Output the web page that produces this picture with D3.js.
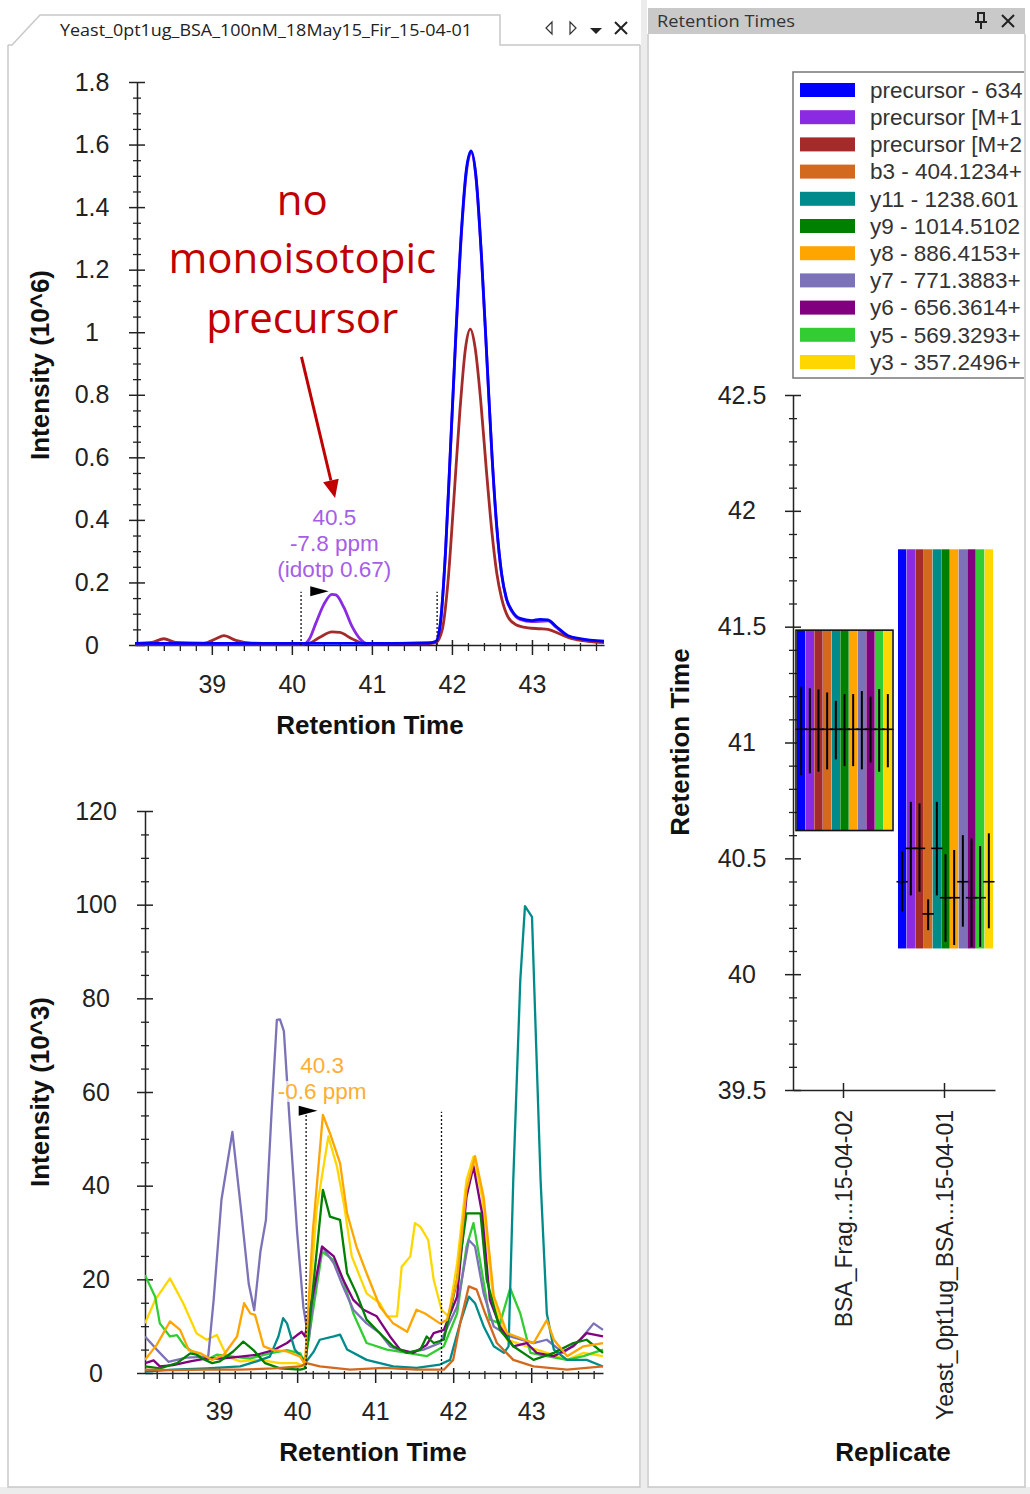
<!DOCTYPE html>
<meta charset="utf-8">
<script src="https://d3js.org/d3.v7.min.js"></script>
<style>
  body { margin: 0; background: #fff; }
  text { font-family: "Liberation Sans", Arial, sans-serif; }
</style>
<div id="my_dataviz"></div>
<script>

// ---------------- data ----------------
const seriesNames = ["precursor - 634", "precursor [M+1", "precursor [M+2", "b3 - 404.1234+", "y11 - 1238.601",
  "y9 - 1014.5102", "y8 - 886.4153+", "y7 - 771.3883+", "y6 - 656.3614+", "y5 - 569.3293+", "y3 - 357.2496+"];
const seriesColors = ["#0000ff", "#8a2be2", "#a52a2a", "#d2691e", "#008b8b", "#008000", "#ffa500", "#7b72b8", "#800080", "#32cd32", "#ffd700"];

// top chromatogram: precursor isotopes, [time, intensity 10^6]
const precursorM0 = [[38.04, 0.005], [39.0, 0.005], [40.0, 0.005], [41.0, 0.005], [41.7, 0.006], [41.8, 0.012], [41.86, 0.08],
  [41.92, 0.3], [41.98, 0.62], [42.05, 1.0], [42.12, 1.33], [42.18, 1.52], [42.24, 1.58], [42.3, 1.5], [42.37, 1.24], [42.44, 0.9],
  [42.5, 0.61], [42.56, 0.38], [42.62, 0.23], [42.68, 0.15], [42.75, 0.11], [42.85, 0.085], [43.0, 0.078], [43.1, 0.082],
  [43.2, 0.08], [43.3, 0.06], [43.45, 0.03], [43.6, 0.02], [43.9, 0.012]];
const precursorM1 = [[38.04, 0.003], [40.15, 0.003], [40.22, 0.02], [40.3, 0.07], [40.4, 0.13], [40.5, 0.162], [40.55, 0.16],
  [40.65, 0.12], [40.75, 0.06], [40.85, 0.02], [40.95, 0.004], [41.8, 0.008], [41.86, 0.078], [41.92, 0.298], [41.98, 0.615],
  [42.05, 0.99], [42.12, 1.32], [42.18, 1.51], [42.24, 1.575], [42.3, 1.495], [42.37, 1.235], [42.44, 0.895], [42.5, 0.605],
  [42.56, 0.375], [42.62, 0.226], [42.68, 0.147], [42.75, 0.107], [42.85, 0.082], [43.0, 0.075], [43.2, 0.077], [43.3, 0.057],
  [43.45, 0.028], [43.6, 0.018], [43.9, 0.01]];
const precursorM2 = [[38.04, 0.005], [38.25, 0.008], [38.4, 0.02], [38.55, 0.008], [38.9, 0.006], [39.05, 0.02], [39.15, 0.03],
  [39.3, 0.015], [39.5, 0.006], [40.0, 0.004], [40.2, 0.005], [40.35, 0.025], [40.5, 0.042], [40.6, 0.04], [40.75, 0.02],
  [40.9, 0.005], [41.7, 0.004], [41.8, 0.008], [41.88, 0.05], [41.95, 0.2], [42.02, 0.45], [42.1, 0.75], [42.17, 0.95],
  [42.23, 1.01], [42.29, 0.95], [42.36, 0.78], [42.43, 0.56], [42.5, 0.36], [42.56, 0.23], [42.62, 0.15], [42.7, 0.09],
  [42.8, 0.065], [42.95, 0.055], [43.1, 0.052], [43.2, 0.05], [43.35, 0.035], [43.5, 0.02], [43.7, 0.012], [43.9, 0.008]];

// bottom chromatogram: fragment ions, [time, intensity 10^3]
const b3Trace = [[38.05, 0.7], [38.41, 0.6], [38.84, 0.7], [39.27, 0.7], [39.7, 1], [40.04, 1.4], [40.12, 2.1], [40.29, 1.4],
  [40.47, 1.1], [40.68, 0.7], [41.11, 1.1], [41.53, 0.7], [41.88, 0.7], [42.0, 2.8], [42.09, 10.7], [42.2, 18.5], [42.3, 17.8],
  [42.41, 12.7], [42.56, 6.4], [42.77, 2.8], [43.03, 1.4], [43.46, 0.7], [43.92, 1.4]];
const y11Trace = [[38.05, 0.3], [38.41, 0.7], [38.84, 1], [39.27, 1.4], [39.48, 2.5], [39.65, 3.5], [39.76, 7.8], [39.82, 11.7],
  [39.87, 10.6], [39.97, 5], [40.06, 3.2], [40.12, 2.5], [40.21, 4.5], [40.29, 7.1], [40.47, 7.8], [40.55, 8.2], [40.64, 5],
  [40.89, 2.8], [41.23, 1.4], [41.53, 1.1], [41.83, 1.8], [41.96, 2.8], [42.09, 10.7], [42.2, 16.3], [42.28, 14.9], [42.39, 10],
  [42.52, 5.7], [42.65, 4.3], [42.71, 5.7], [42.77, 41.2], [42.86, 83.9], [42.92, 99.7], [43.01, 97.4], [43.05, 76.8],
  [43.12, 41.2], [43.2, 12.7], [43.29, 5], [43.46, 2.8], [43.71, 2.8], [43.92, 1.4]];
const y9Trace = [[38.05, 1.4], [38.24, 1], [38.46, 2.1], [38.63, 4.2], [38.71, 3.9], [38.78, 3.1], [38.91, 2.1], [39.01, 2.5],
  [39.18, 4.6], [39.31, 6.7], [39.44, 4.9], [39.59, 2.1], [39.78, 1], [40.04, 0.7], [40.1, 1], [40.33, 39.1], [40.42, 33.4],
  [40.55, 32.7], [40.64, 21.3], [40.76, 17], [40.89, 11.4], [41.06, 8.5], [41.23, 5.7], [41.41, 4.3], [41.58, 5], [41.66, 7.8],
  [41.75, 6.4], [41.88, 7.1], [42.05, 19.9], [42.17, 34.1], [42.35, 34.1], [42.43, 19.9], [42.6, 9.2], [42.77, 5.7],
  [43.03, 2.8], [43.29, 4.3], [43.54, 6.4], [43.71, 7.1], [43.92, 4.3]];
const y8Trace = [[38.05, 2.8], [38.2, 6], [38.37, 11], [38.5, 9.2], [38.61, 4.9], [38.76, 4.2], [38.91, 2.8], [39.06, 3.9],
  [39.23, 7.8], [39.32, 14.9], [39.4, 12.7], [39.46, 12.4], [39.57, 5.7], [39.7, 4.9], [39.87, 4.6], [40.04, 3.5], [40.1, 1.8],
  [40.2, 30], [40.33, 55.1], [40.42, 51.2], [40.55, 44.8], [40.64, 34.1], [40.76, 27], [40.89, 21.3], [41.06, 14.2],
  [41.23, 10.6], [41.41, 8.8], [41.53, 13.5], [41.64, 12.7], [41.83, 10.6], [41.92, 11.3], [42.05, 19.9], [42.17, 39.1],
  [42.28, 46.3], [42.39, 37.6], [42.52, 16.4], [42.69, 8.5], [43.03, 6.4], [43.2, 11.3], [43.29, 7.1], [43.46, 3.6],
  [43.67, 5.7], [43.92, 6.4]];
const y7Trace = [[38.05, 7.8], [38.2, 5], [38.35, 2.4], [38.58, 3.3], [38.86, 3.5], [38.93, 15.6], [39.03, 37], [39.17, 51.5],
  [39.28, 35], [39.38, 19], [39.45, 13.4], [39.53, 26], [39.6, 32.7], [39.67, 55], [39.74, 75.4], [39.78, 75.5], [39.83, 73],
  [39.9, 54.7], [40.0, 30], [40.08, 14], [40.15, 7], [40.2, 15], [40.32, 27], [40.47, 23.4], [40.59, 18.4], [40.72, 13.5],
  [40.89, 10.6], [41.06, 8.5], [41.19, 5.7], [41.41, 4.3], [41.62, 5], [41.83, 6.4], [42.05, 14.2], [42.2, 28.4], [42.28, 27],
  [42.39, 17], [42.52, 9.9], [42.73, 7.8], [43.03, 6.4], [43.2, 7.1], [43.41, 4.3], [43.63, 7.1], [43.8, 10.6], [43.92, 9.2]];
const y6Trace = [[38.05, 2.1], [38.16, 2.7], [38.24, 1.4], [38.41, 1.7], [38.63, 2.5], [38.84, 3.1], [39.06, 3.1], [39.27, 3.5],
  [39.48, 3.9], [39.7, 4.9], [39.87, 6.4], [40.0, 8.1], [40.06, 8.8], [40.1, 7.8], [40.32, 27], [40.47, 24.9], [40.59, 19.9],
  [40.72, 15.6], [40.85, 13.5], [41.02, 12.1], [41.19, 7.8], [41.32, 5], [41.49, 4.3], [41.66, 6], [41.75, 8.5], [41.88, 9.2],
  [42.05, 16.3], [42.17, 37.6], [42.26, 44.1], [42.37, 34.1], [42.47, 15.6], [42.6, 9.9], [42.77, 5.7], [42.94, 6.4],
  [43.07, 4.3], [43.29, 3.6], [43.54, 5.7], [43.71, 8.5], [43.92, 7.8]];
const y5Trace = [[38.05, 20.9], [38.18, 16.3], [38.24, 10.6], [38.37, 7.8], [38.46, 8.1], [38.56, 5.7], [38.69, 4.2], [38.84, 2.8],
  [38.97, 3.9], [39.18, 3.5], [39.4, 3.1], [39.65, 4.2], [39.87, 4.9], [40.04, 4.2], [40.1, 2.1], [40.32, 25.9], [40.47, 24.1],
  [40.59, 19.9], [40.72, 12.7], [40.89, 6.4], [41.15, 5], [41.41, 4.3], [41.66, 3.6], [41.88, 5.7], [42.05, 12.7], [42.17, 27],
  [42.26, 32], [42.35, 23.4], [42.47, 11.4], [42.6, 10.6], [42.73, 18.1], [42.86, 12.7], [42.99, 4.3], [43.2, 3.6],
  [43.46, 2.8], [43.67, 3.6], [43.92, 5]];
const y3Trace = [[38.05, 10.6], [38.18, 15.6], [38.37, 20.2], [38.54, 14.9], [38.71, 8.5], [38.84, 7.1], [38.97, 8.1], [39.1, 3.5],
  [39.27, 2.5], [39.52, 2.8], [39.78, 2.1], [39.99, 2.1], [40.1, 1.4], [40.25, 35], [40.4, 50.5], [40.51, 44.1], [40.6, 36],
  [40.7, 24.9], [40.89, 17], [41.06, 14.9], [41.15, 12.1], [41.28, 12.1], [41.34, 22.7], [41.45, 24.9], [41.51, 32],
  [41.58, 31.2], [41.68, 28.4], [41.75, 19.9], [41.85, 13.5], [41.94, 12.1], [42.05, 23.4], [42.17, 41.2], [42.26, 46.2],
  [42.37, 37.6], [42.52, 14.9], [42.69, 7.1], [42.94, 5.7], [43.2, 4.3], [43.46, 2.8], [43.67, 4.3], [43.92, 3.6]];

// peak boundaries
const topBounds = [40.115, 41.815];
const botBounds = [40.115, 41.85];

// retention times panel
const replicates = ["BSA_Frag...15-04-02", "Yeast_0pt1ug_BSA...15-04-01"];
const peakStart = [40.62, 40.111];
const peakEnd = [41.485, 41.834];
const rtBSA = [41.057, 41.057, 41.057, 41.057, 41.057, 41.057, 41.057, 41.057, 41.057, 41.057, 41.057];
const fwhmTopBSA = [41.241, 41.234, 41.229, 41.216, 41.18, 41.209, 41.209, 41.222, 41.198, 41.231, 41.209];
const fwhmBotBSA = [40.859, 40.867, 40.874, 40.884, 40.927, 40.898, 40.898, 40.884, 40.914, 40.874, 40.893];
const rtYeast = [40.399, 40.543, 40.543, 40.26, 40.543, 40.33, 40.33, 40.399, 40.33, 40.33, 40.399];
const fwhmTopYeast = [40.53, 40.744, 40.737, 40.323, 40.744, 40.518, 40.536, 40.6, 40.586, 40.553, 40.608];
const fwhmBotYeast = [40.27, 40.34, 40.356, 40.19, 40.34, 40.14, 40.126, 40.205, 40.118, 40.118, 40.198];

// ---------------- svg ----------------
const W = 1030, H = 1494;
const svg = d3.select("#my_dataviz").append("svg").attr("width", W).attr("height", H);
const tickFont = 25;

// window chrome
svg.append("rect").attr("x", 0).attr("y", 1487).attr("width", W).attr("height", 7).attr("fill", "#ececec");
svg.append("rect").attr("x", 641).attr("y", 0).attr("width", 6).attr("height", H).attr("fill", "#ececec");
svg.append("path").attr("d", "M8,45 V1487 H640 V45").attr("fill", "none").attr("stroke", "#c8c8c8").attr("stroke-width", 1.5);
svg.append("path").attr("d", "M8,45 H12 L40,15 H500 V45 H640").attr("fill", "none").attr("stroke", "#c8c8c8").attr("stroke-width", 1.5);
svg.append("text").attr("x", 60).attr("y", 36).attr("font-size", 17).attr("fill", "#222")
  .style("font-family", "'Open Sans', sans-serif")
  .attr("textLength", 412).attr("lengthAdjust", "spacingAndGlyphs")
  .text("Yeast_0pt1ug_BSA_100nM_18May15_Fir_15-04-01");
svg.append("path").attr("d", "M552,22 L546,28 L552,34 Z").attr("fill", "none").attr("stroke", "#333").attr("stroke-width", 1.2);
svg.append("path").attr("d", "M570,22 L576,28 L570,34 Z").attr("fill", "none").attr("stroke", "#333").attr("stroke-width", 1.2);
svg.append("path").attr("d", "M590,28 H602 L596,34 Z").attr("fill", "#222");
svg.append("path").attr("d", "M615,22 L627,34 M627,22 L615,34").attr("stroke", "#222").attr("stroke-width", 2);

svg.append("rect").attr("x", 648).attr("y", 8).attr("width", 377).attr("height", 26).attr("fill", "#c9c9c9");
svg.append("text").attr("x", 657).attr("y", 27).attr("font-size", 17).attr("fill", "#333")
  .style("font-family", "'Open Sans', sans-serif")
  .attr("textLength", 138).attr("lengthAdjust", "spacingAndGlyphs").text("Retention Times");
svg.append("path").attr("d", "M977,13 H985 M978,13 V22 M984,13 V22 M975,22 H987 M981,22 V29").attr("stroke", "#222").attr("stroke-width", 2).attr("fill", "none");
svg.append("path").attr("d", "M1002,15 L1014,27 M1014,15 L1002,27").attr("stroke", "#222").attr("stroke-width", 2);
svg.append("path").attr("d", "M648,34 V1487 H1025 V34").attr("fill", "none").attr("stroke", "#c8c8c8").attr("stroke-width", 1.5);

// ---------------- axis helpers ----------------
function styleAxis(g) {
  g.select(".domain").attr("stroke", "#222").attr("stroke-width", 1.5);
  g.selectAll(".tick line").attr("stroke", "#222").attr("stroke-width", 1.5);
  g.selectAll(".tick text").attr("font-size", tickFont).attr("fill", "#222")
    .style("font-family", "'Liberation Sans', Arial, sans-serif");
}
function minorTicks(lo, hi, step, majorStep) {
  const n = Math.round((hi - lo) / step);
  return d3.range(n + 1).map(i => +(lo + i * step).toFixed(4))
    .filter(v => Math.abs(v / majorStep - Math.round(v / majorStep)) > 1e-6);
}
// y axis with ticks crossing the line and labels centred at labelOff left of it
function leftAxis(scale, x0, majors, minors, fmt, labelOff) {
  const g = svg.append("g").attr("transform", `translate(${x0},0)`);
  g.call(d3.axisLeft(scale).tickValues(minors).tickSize(4).tickFormat("").tickSizeOuter(0))
    .call(a => a.select(".domain").remove());
  g.selectAll(".tick line").attr("x1", 4).attr("stroke", "#222").attr("stroke-width", 1.3);
  const gm = svg.append("g").attr("transform", `translate(${x0},0)`);
  gm.call(d3.axisLeft(scale).tickValues(majors).tickSize(8).tickFormat(fmt).tickSizeOuter(0));
  styleAxis(gm);
  gm.selectAll(".tick line").attr("x1", 8);
  gm.selectAll(".tick text").attr("x", -labelOff).attr("text-anchor", "middle");
  return gm;
}
function bottomAxis(scale, y0, majors, minors, pad) {
  const g = svg.append("g").attr("transform", `translate(0,${y0})`);
  g.call(d3.axisBottom(scale).tickValues(minors).tickSize(6).tickFormat("").tickSizeOuter(0))
    .call(a => a.select(".domain").remove());
  g.selectAll(".tick line").attr("y1", -2).attr("stroke", "#222").attr("stroke-width", 1.3);
  const gm = svg.append("g").attr("transform", `translate(0,${y0})`);
  gm.call(d3.axisBottom(scale).tickValues(majors).tickSize(10).tickPadding(pad).tickFormat(d3.format("d")).tickSizeOuter(0));
  styleAxis(gm);
  gm.selectAll(".tick line").attr("y1", -5);
  return gm;
}
function title(x, y, txt, rotate) {
  svg.append("text").attr("transform", `translate(${x},${y})` + (rotate ? " rotate(-90)" : ""))
    .attr("text-anchor", "middle").attr("dy", "0.35em").attr("font-size", 26).attr("font-weight", "bold")
    .attr("fill", "#111").text(txt);
}
function clip(id, x, y, w, h) {
  svg.append("clipPath").attr("id", id).append("rect").attr("x", x).attr("y", y).attr("width", w).attr("height", h);
}
function boundary(xs, ys, t, top) {
  svg.append("line").attr("x1", xs(t)).attr("x2", xs(t)).attr("y1", ys(0)).attr("y2", ys(top))
    .attr("stroke", "#111").attr("stroke-width", 1.3).attr("stroke-dasharray", "2,2");
}
function flag(xs, ys, t0, t1, v) {
  const x0 = xs(t0), x1 = xs(t1), y = ys(v);
  svg.append("path").attr("d", `M${x0},${y - 5} L${x1},${y} L${x0},${y + 5} Z`).attr("fill", "#000");
}
function label(xs, ys, t, lines, color) {
  const g = svg.append("g");
  lines.forEach(([txt, v]) => {
    const tx = g.append("text").attr("x", xs(t)).attr("y", ys(v)).attr("dy", "0.35em")
      .attr("text-anchor", "middle").attr("font-size", 22.5).attr("fill", color).text(txt);
    const bb = tx.node().getBBox();
    g.insert("rect", "text").attr("x", bb.x).attr("y", bb.y + 2).attr("width", bb.width).attr("height", bb.height - 4)
      .attr("fill", "#fff").attr("opacity", 0.75);
  });
}

// ---------------- top chart ----------------
const xTop = d3.scaleLinear().domain([38.04, 43.9]).range([135, 604]);
const yTop = d3.scaleLinear().domain([0, 1.8]).range([645, 82]);

leftAxis(yTop, 137, d3.range(0, 1.81, 0.2).map(v => +v.toFixed(1)), minorTicks(0, 1.8, 0.05, 0.2), d => d === 0 ? "0" : d3.format("~g")(d), 45);
bottomAxis(xTop, 645, [39, 40, 41, 42, 43], minorTicks(38.2, 43.8, 0.2, 1), 20);
title(40, 365, "Intensity (10^6)", true);
title(370, 725, "Retention Time", false);

clip("clipTop", 135, 75, 470, 572);
const lineTop = d3.line().x(d => xTop(d[0])).y(d => yTop(d[1])).curve(d3.curveMonotoneX);
[[precursorM1, 1], [precursorM2, 2], [precursorM0, 0]].forEach(([pts, i]) => {
  svg.append("path").datum(pts).attr("d", lineTop).attr("fill", "none")
    .attr("stroke", seriesColors[i]).attr("stroke-width", 2.8).attr("clip-path", "url(#clipTop)");
});
topBounds.forEach(t => boundary(xTop, yTop, t, 0.17));
flag(xTop, yTop, 40.23, 40.46, 0.172);
label(xTop, yTop, 40.53, [["40.5", 0.409], ["-7.8 ppm", 0.326], ["(idotp 0.67)", 0.243]], "#a55ee8");

// red note
const note = svg.append("g");
[["no", 1.423], ["monoisotopic", 1.237], ["precursor", 1.045]].forEach(([txt, v]) => {
  note.append("text").attr("x", xTop(40.13)).attr("y", yTop(v)).attr("dy", "0.35em")
    .attr("text-anchor", "middle").attr("font-size", 42).attr("fill", "#c00000")
    .style("font-family", "'Open Sans', sans-serif").text(txt);
});
{
  const ax0 = xTop(40.12), ay0 = yTop(0.921), ax1 = xTop(40.54), ay1 = yTop(0.47);
  const ang = Math.atan2(ay1 - ay0, ax1 - ax0), L = 18, Wd = 8;
  const bx = ax1 - L * Math.cos(ang), by = ay1 - L * Math.sin(ang);
  svg.append("line").attr("x1", ax0).attr("y1", ay0).attr("x2", bx).attr("y2", by)
    .attr("stroke", "#c00000").attr("stroke-width", 3);
  svg.append("path").attr("d", `M${ax1},${ay1} L${bx + Wd * Math.sin(ang)},${by - Wd * Math.cos(ang)} L${bx - Wd * Math.sin(ang)},${by + Wd * Math.cos(ang)} Z`)
    .attr("fill", "#c00000");
}

// ---------------- bottom chart ----------------
const xBot = d3.scaleLinear().domain([38.05, 43.92]).range([145, 603]);
const yBot = d3.scaleLinear().domain([0, 120]).range([1373, 811]);

leftAxis(yBot, 145, d3.range(0, 121, 20), minorTicks(0, 120, 5, 20), d3.format("d"), 49);
bottomAxis(xBot, 1373, [39, 40, 41, 42, 43], minorTicks(38.2, 43.8, 0.2, 1), 19);
title(40, 1092, "Intensity (10^3)", true);
title(373, 1452, "Retention Time", false);

clip("clipBot", 145, 805, 460, 570);
const lineBot = d3.line().x(d => xBot(d[0])).y(d => yBot(d[1]));
[[y3Trace, 10], [y5Trace, 9], [y7Trace, 7], [y6Trace, 8], [y11Trace, 4], [y9Trace, 5], [y8Trace, 6], [b3Trace, 3]].forEach(([pts, i]) => {
  svg.append("path").datum(pts).attr("d", lineBot).attr("fill", "none")
    .attr("stroke", seriesColors[i]).attr("stroke-width", 2.3).attr("stroke-linejoin", "round")
    .attr("clip-path", "url(#clipBot)");
});
botBounds.forEach(t => boundary(xBot, yBot, t, 55.8));
flag(xBot, yBot, 40.02, 40.26, 56);
label(xBot, yBot, 40.32, [["40.3", 65.8], ["-0.6 ppm", 60.2]], "#ffad33");

// ---------------- retention times chart ----------------
const yRT = d3.scaleLinear().domain([39.5, 42.5]).range([1090, 395]);
const xRep = d3.scaleBand().domain(replicates).range([793, 995]).paddingInner(0).paddingOuter(0);
const xSer = d3.scaleBand().domain(seriesNames).range([4, xRep.bandwidth() - 2]).paddingInner(0.04);

leftAxis(yRT, 793, [39.5, 40, 40.5, 41, 41.5, 42, 42.5], minorTicks(39.5, 42.5, 0.1, 0.5), d => d3.format("~g")(d), 51);
{
  const g = svg.append("g").attr("transform", "translate(0,1090)");
  g.call(d3.axisBottom(xRep).tickSize(8).tickSizeOuter(0));
  styleAxis(g);
  g.selectAll(".tick line").attr("y1", -7);
  g.selectAll(".tick text").attr("font-size", 23).attr("transform", "rotate(-90)")
    .attr("x", -20).attr("y", 0).attr("dy", "0.35em").attr("text-anchor", "end");
}
title(680, 742, "Retention Time", true);
title(893, 1452, "Replicate", false);

const repData = [
  { rt: rtBSA, hi: fwhmTopBSA, lo: fwhmBotBSA },
  { rt: rtYeast, hi: fwhmTopYeast, lo: fwhmBotYeast }
];
replicates.forEach((rep, r) => {
  const g = svg.append("g").attr("transform", `translate(${xRep(rep)},0)`);
  seriesNames.forEach((s, i) => {
    g.append("rect").attr("x", xSer(s)).attr("width", xSer.bandwidth())
      .attr("y", yRT(peakEnd[r])).attr("height", yRT(peakStart[r]) - yRT(peakEnd[r]))
      .attr("fill", seriesColors[i]);
  });
  seriesNames.forEach((s, i) => {
    const cx = xSer(s) + xSer.bandwidth() / 2;
    g.append("line").attr("x1", cx).attr("x2", cx)
      .attr("y1", yRT(repData[r].hi[i])).attr("y2", yRT(repData[r].lo[i]))
      .attr("stroke", "#000").attr("stroke-width", 2);
    g.append("line").attr("x1", cx - xSer.bandwidth() / 2 - 1.5).attr("x2", cx + xSer.bandwidth() / 2 + 1.5)
      .attr("y1", yRT(repData[r].rt[i])).attr("y2", yRT(repData[r].rt[i]))
      .attr("stroke", "#000").attr("stroke-width", 1.6);
  });
  if (r === 0) {
    g.append("rect").attr("x", xSer(seriesNames[0]) - 1).attr("width", xSer.range()[1] - xSer.range()[0] + 2)
      .attr("y", yRT(peakEnd[r])).attr("height", yRT(peakStart[r]) - yRT(peakEnd[r]))
      .attr("fill", "none").attr("stroke", "#111").attr("stroke-width", 1.6);
  }
});

// legend (cut by the panel edge, as in the app)
clip("clipLegend", 648, 60, 376, 330);
const leg = svg.append("g").attr("clip-path", "url(#clipLegend)");
leg.append("rect").attr("x", 793).attr("y", 72).attr("width", 260).attr("height", 306)
  .attr("fill", "#fff").attr("stroke", "#777").attr("stroke-width", 1.5);
const rowY = d3.scalePoint().domain(seriesNames).range([90, 362]);
seriesNames.forEach((s, i) => {
  leg.append("rect").attr("x", 800).attr("y", rowY(s) - 7).attr("width", 55).attr("height", 14).attr("fill", seriesColors[i]);
  leg.append("text").attr("x", 870).attr("y", rowY(s)).attr("dy", "0.35em")
    .attr("font-size", 22.5).attr("fill", "#333").text(s);
});

</script>
